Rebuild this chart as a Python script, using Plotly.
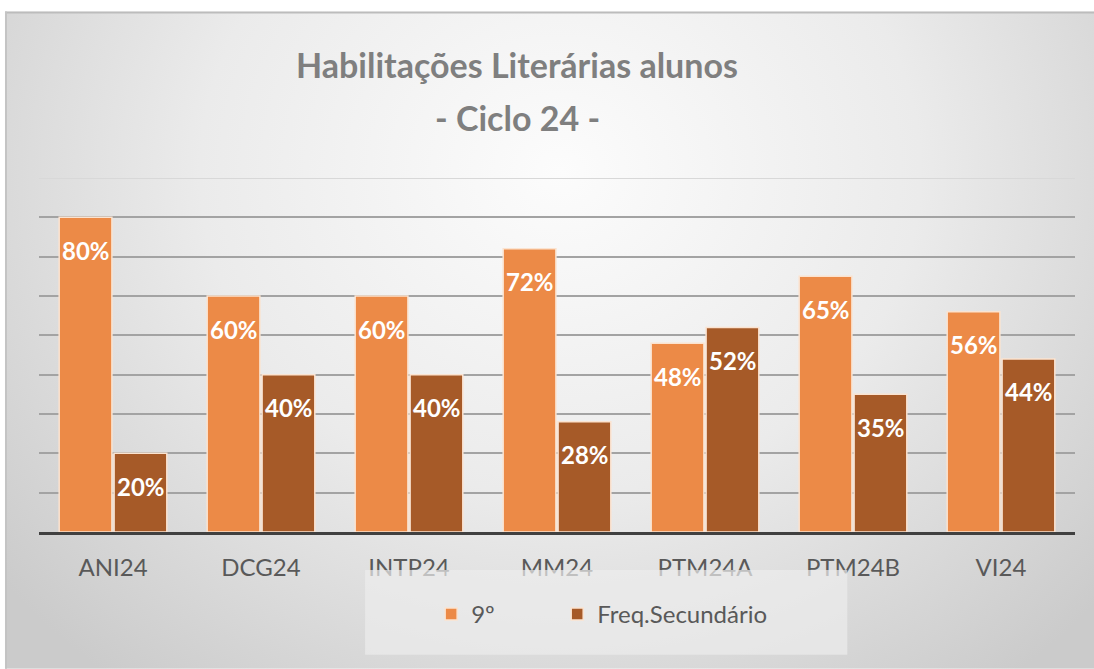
import plotly.graph_objects as go
import base64

# ---- data ----
categories = ["ANI24", "DCG24", "INTP24", "MM24", "PTM24A", "PTM24B", "VI24"]
nono = [0.80, 0.60, 0.60, 0.72, 0.48, 0.65, 0.56]
freq_sec = [0.20, 0.40, 0.40, 0.28, 0.52, 0.35, 0.44]
series_names = ["9º", "Freq.Secundário"]
title_line1 = "Habilitações Literárias alunos"
title_line2 = "- Ciclo 24 -"

# ---- layout geometry (pixels) ----
W, H = 1094, 669
ML, MR, MT, MB = 39, 19.4, 177.6, 137
PW = W - ML - MR
PH = H - MT - MB


def px(xp):
    return (xp - ML) / PW


def py(yp):
    return (H - MB - yp) / PH


ORANGE = "#EC8A47"
BROWN = "#A65A28"
OUTLINE = "#FBE3D0"
LEG_FONT = dict(family="Lato", size=24, color="#595959")

fig = go.Figure()
fig.add_trace(go.Bar(x=categories, y=nono, name=series_names[0], legend="legend",
                     marker=dict(color=ORANGE, line=dict(color=OUTLINE, width=1.5))))
fig.add_trace(go.Bar(x=categories, y=freq_sec, name=series_names[1], legend="legend2",
                     marker=dict(color=BROWN, line=dict(color=OUTLINE, width=1.5))))

annotations = []
for vals, shift in ((nono, -27.5), (freq_sec, 27.5)):
    for c, v in zip(categories, vals):
        annotations.append(dict(
            x=c, y=v, xref="x", yref="y", text=f"{round(v * 100)}%",
            showarrow=False, xshift=shift, yshift=-33, yanchor="middle",
            font=dict(family="Lato", size=24, color="white", weight="bold")))

for txt, ypix in ((title_line1, 64), (title_line2, 117)):
    annotations.append(dict(x=px(517), y=py(ypix), xref="paper", yref="paper",
                            text=f"<b>{txt}</b>", showarrow=False,
                            xanchor="center", yanchor="middle",
                            font=dict(family="Lato", size=34, color="#7f7f7f")))

# background radial gradient
svg = ('<svg xmlns="http://www.w3.org/2000/svg" width="1089" height="658" viewBox="0 0 1089 658">'
       '<defs><radialGradient id="g" gradientUnits="userSpaceOnUse" cx="555" cy="160" r="720" '
       'gradientTransform="translate(555 160) scale(1 0.9) translate(-555 -160)">'
       '<stop offset="0" stop-color="#fcfcfc"/><stop offset="0.5" stop-color="#ebebeb"/>'
       '<stop offset="1" stop-color="#cbcbcb"/></radialGradient></defs>'
       '<rect width="1089" height="658" fill="url(#g)"/></svg>')
src = "data:image/svg+xml;base64," + base64.b64encode(svg.encode()).decode()

fig.add_layout_image(dict(source=src, xref="paper", yref="paper",
                          x=px(5), y=py(11), sizex=(W - 5) / PW, sizey=(H - 11) / PH,
                          xanchor="left", yanchor="top", sizing="stretch", layer="below"))

shapes = [
    dict(type="line", xref="paper", yref="paper", x0=px(5), x1=px(W), y0=py(12), y1=py(12),
         line=dict(color="#bcbcbc", width=2)),
    dict(type="line", xref="paper", yref="paper", x0=px(6), x1=px(6), y0=py(11), y1=py(H),
         line=dict(color="#c4c4c4", width=2)),
    dict(type="line", xref="paper", yref="y", x0=0, x1=1, y0=0.9, y1=0.9,
         line=dict(color="#d8d8d8", width=2), layer="below"),
    dict(type="rect", xref="paper", yref="paper", x0=px(365), x1=px(847), y0=py(655), y1=py(570),
         fillcolor="rgba(236,236,236,0.7)", line=dict(width=0), layer="above"),
]

fig.update_layout(
    width=W, height=H,
    margin=dict(l=ML, r=MR, t=MT, b=MB, pad=0),
    paper_bgcolor="white", plot_bgcolor="rgba(0,0,0,0)",
    barmode="group", bargap=0.258, bargroupgap=0.04,
    showlegend=True,
    legend=dict(orientation="h", x=px(431), y=py(614.5), xanchor="left", yanchor="middle",
                bgcolor="rgba(0,0,0,0)", font=LEG_FONT),
    legend2=dict(orientation="h", x=px(557), y=py(614.5), xanchor="left", yanchor="middle",
                 bgcolor="rgba(0,0,0,0)", font=LEG_FONT),
    annotations=annotations,
    shapes=shapes,
    xaxis=dict(showline=True, linecolor="#404040", linewidth=3, ticks="",
               tickfont=dict(family="Lato", size=24, color="#595959"),
               ticklabelstandoff=12,
               showgrid=False, zeroline=False, fixedrange=True),
    yaxis=dict(range=[0, 0.9], tickvals=[0.1, 0.2, 0.3, 0.4, 0.5, 0.6, 0.7, 0.8],
               showticklabels=False, showgrid=True, gridcolor="#a3a3a3", gridwidth=2,
               zeroline=False, showline=False, fixedrange=True),
)

fig.write_html("out.html", config={"displayModeBar": False},
               post_script="document.body.style.margin='0';document.body.style.overflow='hidden';")
